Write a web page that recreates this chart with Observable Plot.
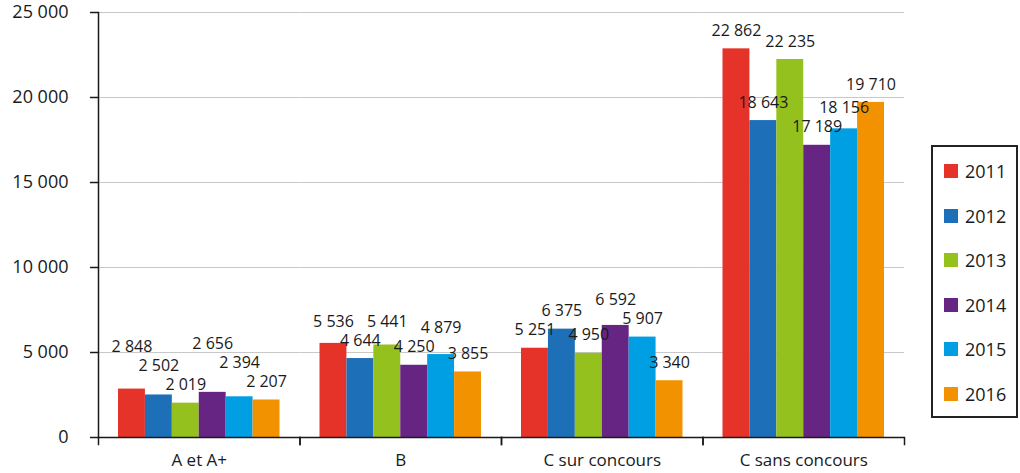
<!DOCTYPE html>
<html><head><meta charset="utf-8">
<script src="https://cdn.jsdelivr.net/npm/d3@7"></script>
<script src="https://cdn.jsdelivr.net/npm/@observablehq/plot@0.6"></script>
<style>
body{margin:0;background:#fff;font-family:"Open Sans",sans-serif;color:#1a1a1a}
#wrap{position:relative;width:1020px;height:473px}
#legend{position:absolute;left:931px;top:145px;width:87px;height:273px;border:2px solid #222;box-sizing:border-box;padding-top:2px}
.item{height:44.5px;display:flex;align-items:center;font-size:18px}
.sw{width:14px;height:14px;margin-left:11px;margin-right:7px}
</style></head>
<body><div id="wrap"></div>
<script>
const categories = ["A et A+", "B", "C sur concours", "C sans concours"];
const years = ["2011", "2012", "2013", "2014", "2015", "2016"];
const colors = ["#e5332a", "#1d6fb8", "#95c11f", "#662483", "#009fe3", "#f39200"];
const v2011 = [2848, 5536, 5251, 22862];
const v2012 = [2502, 4644, 6375, 18643];
const v2013 = [2019, 5441, 4950, 22235];
const v2014 = [2656, 4250, 6592, 17189];
const v2015 = [2394, 4879, 5907, 18156];
const v2016 = [2207, 3855, 3340, 19710];
const yTicks = [0, 5000, 10000, 15000, 20000, 25000];
const series = [v2011, v2012, v2013, v2014, v2015, v2016];

const fmt = d3.formatLocale({decimal: ",", thousands: " ", grouping: [3], currency: ["", ""]}).format(",");

const W = 1020, H = 473, mT = 12, mB = 36, mL = 98, mR = 116;
const yMax = yTicks[yTicks.length - 1];
const unitsPerPx = yMax / (H - mT - mB);
const pad = 18 * unitsPerPx, sep = 19 * unitsPerPx;

const rows = [];
categories.forEach((c, i) => {
  const vals = series.map(s => s[i]);
  const L = vals.map(v => v + pad);
  // simple label relaxation: push the higher label of an overlapping pair upward
  for (let iter = 0; iter < 100; iter++) {
    let moved = false;
    for (let j = 0; j < L.length - 1; j++) {
      if (Math.abs(L[j] - L[j + 1]) < sep - 1e-6) {
        const hi = L[j] > L[j + 1] || (L[j] === L[j + 1] && vals[j] >= vals[j + 1]) ? j : j + 1;
        const lo = hi === j ? j + 1 : j;
        L[hi] = L[lo] + sep;
        moved = true;
      }
    }
    if (!moved) break;
  }
  years.forEach((y, j) => rows.push({cat: c, year: y, value: vals[j], labelY: L[j]}));
});

const chart = Plot.plot({
  width: W, height: H, marginLeft: mL, marginRight: mR, marginTop: mT, marginBottom: mB,
  style: {fontFamily: "'Open Sans', sans-serif", fontSize: "16px", color: "#1a1a1a", background: "#fff"},
  fx: {domain: categories, padding: 0, label: null, round: false},
  x: {domain: years, padding: 0, insetLeft: 20, insetRight: 20, axis: null, round: false},
  y: {domain: [0, yMax], label: null},
  color: {domain: years, range: colors},
  marks: [
    Plot.gridY(yTicks.slice(1), {stroke: "#c8c8c8", strokeOpacity: 1, strokeWidth: 1}),
    Plot.barY(rows, {fx: "cat", x: "year", y: "value", fill: "year"}),
    Plot.text(rows, {fx: "cat", x: "year", y: "labelY", text: d => fmt(d.value), fontSize: 16, fill: "#1a1a1a"}),
    Plot.ruleY([0], {stroke: "#1a1a1a", strokeWidth: 1.5}),
    Plot.frame({anchor: "left", fx: [categories[0]], stroke: "#1a1a1a", strokeWidth: 1.5}),
    Plot.frame({anchor: "left", insetTop: H - mT - mB - 7, dy: 7, stroke: "#1a1a1a", strokeWidth: 1.5}),
    Plot.frame({anchor: "right", insetTop: H - mT - mB - 7, dy: 7, stroke: "#1a1a1a", strokeWidth: 1.5}),
    Plot.axisY(yTicks, {tickFormat: fmt, tickSize: 8, tickPadding: 22, fontSize: 18, stroke: "#1a1a1a", strokeWidth: 1.5}),
    Plot.axisFx({anchor: "bottom", tickSize: 0, tickPadding: 16, fontSize: 17, label: null})
  ]
});
const wrap = document.getElementById("wrap");
wrap.appendChild(chart);

const legend = document.createElement("div");
legend.id = "legend";
years.forEach((y, j) => {
  const it = document.createElement("div");
  it.className = "item";
  const sw = document.createElement("span");
  sw.className = "sw";
  sw.style.background = colors[j];
  it.appendChild(sw);
  it.appendChild(document.createTextNode(y));
  legend.appendChild(it);
});
wrap.appendChild(legend);
</script>
</body></html>
